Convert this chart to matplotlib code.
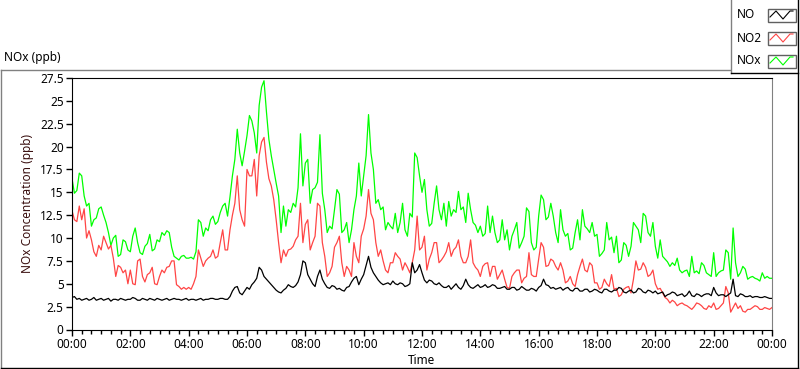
import numpy as np
import matplotlib
matplotlib.use('Agg')
import matplotlib.pyplot as plt
from matplotlib.ticker import MultipleLocator
from matplotlib.patches import Rectangle

plt.rcParams['font.family'] = ['Noto Sans', 'DejaVu Sans']

# readings every 5 minutes, one row per hour, 00:00 .. 24:00 (ppb)
no = [
    3.5, 3.6, 3.3, 3.4, 3.2, 3.3, 3.4, 3.2, 3.3, 3.5, 3.2, 3.3,
    3.4, 3.2, 3.3, 3.4, 3.1, 3.3, 3.3, 3.2, 3.4, 3.3, 3.2, 3.3,
    3.3, 3.5, 3.4, 3.2, 3.2, 3.4, 3.3, 3.2, 3.4, 3.3, 3.2, 3.4,
    3.3, 3.2, 3.3, 3.4, 3.2, 3.3, 3.4, 3.3, 3.3, 3.2, 3.3, 3.4,
    3.2, 3.3, 3.3, 3.2, 3.3, 3.4, 3.2, 3.3, 3.3, 3.4, 3.4, 3.3,
    3.3, 3.4, 3.4, 3.3, 3.3, 3.6, 4.2, 4.6, 4.7, 4.0, 3.8, 4.2,
    4.6, 4.4, 4.9, 5.2, 5.6, 6.8, 6.5, 5.8, 5.5, 5.2, 4.9, 4.6,
    4.3, 4.1, 4.0, 4.3, 4.5, 4.9, 4.7, 4.6, 4.8, 5.2, 6.0, 7.5,
    7.3, 6.0, 5.5, 5.0, 4.7, 5.8, 6.5, 5.5, 5.0, 4.6, 4.5, 4.8,
    4.7, 4.4, 4.5, 4.3, 4.2, 4.6, 4.7, 5.2, 5.6, 5.8, 4.9, 5.5,
    6.0, 7.0, 8.0, 6.8, 6.2, 5.8, 5.4, 5.1, 4.9, 5.0, 5.1, 4.9,
    5.3, 5.0, 4.9, 5.1, 5.0, 4.7, 4.8, 5.0, 7.3, 6.2, 6.5, 7.1,
    6.2, 5.4, 5.1, 5.4, 5.3, 5.0, 4.9, 5.1, 4.8, 4.6, 4.6, 4.8,
    4.4, 4.7, 5.0, 4.6, 4.4, 4.8, 5.5, 4.9, 4.6, 4.5, 4.7, 4.9,
    4.6, 4.7, 4.9, 4.6, 4.7, 4.9, 4.8, 4.5, 4.5, 4.6, 4.7, 4.4,
    4.4, 4.6, 4.6, 4.3, 4.4, 4.7, 4.5, 4.3, 4.3, 4.5, 4.4, 4.2,
    4.6, 4.8, 5.5, 4.9, 4.8, 4.5, 4.6, 4.4, 4.5, 4.6, 4.3, 4.5,
    4.6, 4.3, 4.2, 4.5, 4.5, 4.2, 4.2, 4.4, 4.4, 4.1, 4.2, 4.4,
    4.3, 4.1, 4.0, 4.4, 4.4, 4.2, 4.1, 4.3, 4.3, 4.6, 4.5, 4.1,
    4.0, 4.2, 4.3, 4.0, 4.1, 4.5, 4.4, 4.1, 4.0, 4.3, 4.2, 4.0,
    4.2, 3.9, 4.0, 4.1, 3.6, 3.8, 3.9, 4.1, 4.0, 3.7, 3.8, 3.9,
    3.6, 3.8, 4.2, 3.7, 3.6, 3.9, 3.8, 3.6, 3.8, 3.9, 3.9, 3.7,
    4.6, 4.0, 3.7, 3.8, 3.8, 3.6, 3.8, 4.0, 5.5, 3.7, 3.6, 3.9,
    3.8, 3.6, 3.6, 3.7, 3.5, 3.6, 3.6, 3.5, 3.5, 3.6, 3.5, 3.4,
    3.4,
]
no2 = [
    13.0, 12.0, 11.8, 13.5, 12.0, 13.2, 10.0, 10.8, 9.8, 8.5, 8.0, 9.2,
    8.7, 10.2, 9.5, 8.8, 9.2, 7.8, 5.8, 7.0, 6.8, 6.2, 6.5, 5.0,
    6.5, 5.0, 4.9, 7.5, 7.7, 5.8, 5.2, 6.0, 6.2, 6.8, 5.0, 4.9,
    5.8, 6.5, 6.2, 6.8, 6.9, 7.5, 7.5, 4.9, 4.7, 4.4, 4.6, 4.4,
    4.6, 4.4, 5.0, 5.8, 8.7, 7.8, 6.9, 7.5, 7.8, 8.0, 8.7, 7.8,
    8.0, 9.5, 10.9, 8.7, 8.7, 10.9, 12.5, 13.8, 16.8, 13.1, 12.0, 11.3,
    17.5, 16.8, 16.8, 18.6, 14.6, 19.0, 20.5, 21.0, 18.3, 16.5, 15.7, 14.2,
    12.0, 9.5, 7.3, 8.7, 8.0, 8.7, 8.8, 9.1, 9.8, 10.2, 13.8, 9.5,
    11.5, 12.0, 8.7, 9.5, 10.2, 13.8, 13.5, 9.5, 8.0, 5.8, 6.2, 6.9,
    9.0, 9.5, 10.2, 7.3, 5.8, 6.9, 6.5, 5.8, 9.5, 8.0, 7.3, 10.2,
    11.0, 12.4, 15.3, 12.7, 12.0, 9.5, 8.0, 8.7, 7.5, 6.5, 6.2, 7.3,
    7.3, 8.4, 8.0, 7.7, 6.5, 7.3, 6.8, 6.2, 7.3, 8.7, 12.4, 8.7,
    9.0, 10.2, 6.5, 7.7, 8.4, 9.5, 9.5, 7.3, 7.6, 8.0, 8.5, 9.5,
    8.0, 8.7, 9.0, 9.8, 8.0, 7.3, 7.3, 8.0, 9.8, 7.3, 6.8, 6.5,
    5.8, 6.9, 7.2, 7.3, 5.8, 6.9, 6.9, 5.5, 6.0, 6.5, 5.5, 4.6,
    4.5, 5.8, 6.2, 6.5, 6.5, 5.1, 5.6, 5.8, 8.4, 6.0, 5.8, 5.8,
    7.7, 9.5, 9.0, 6.9, 7.0, 7.7, 7.5, 6.9, 6.5, 7.3, 6.5, 5.1,
    5.3, 5.8, 5.0, 4.7, 6.0, 6.9, 7.7, 6.5, 6.3, 7.3, 7.0, 5.1,
    5.1, 4.4, 4.6, 5.5, 5.0, 4.7, 6.0, 4.4, 4.5, 3.6, 3.8, 4.4,
    4.6, 4.7, 4.0, 5.5, 7.5, 6.5, 6.6, 7.3, 6.8, 5.8, 6.0, 6.5,
    5.0, 4.4, 4.5, 4.0, 3.5, 3.3, 2.9, 3.2, 3.0, 2.6, 2.8, 2.9,
    2.7, 2.6, 2.4, 2.2, 2.5, 2.9, 2.8, 2.6, 2.3, 2.2, 2.6, 2.4,
    2.9, 2.2, 2.3, 2.6, 2.9, 4.7, 4.0, 1.9, 2.4, 2.9, 2.3, 2.6,
    2.0, 1.9, 2.2, 2.2, 2.4, 2.6, 2.5, 2.2, 2.2, 2.4, 2.3, 2.2,
    2.4,
]
nox = [
    16.5, 14.9, 15.2, 17.1, 16.8, 14.6, 13.5, 13.8, 11.3, 12.0, 12.2, 13.2,
    13.4, 12.5, 11.7, 10.6, 9.2, 10.0, 10.3, 8.0, 8.2, 9.8, 9.6, 8.7,
    8.5, 10.2, 11.1, 9.5, 8.4, 8.2, 9.1, 9.4, 10.4, 8.6, 8.8, 9.8,
    9.6, 10.6, 10.3, 10.8, 10.6, 9.0, 8.0, 7.8, 7.6, 8.0, 8.1, 7.8,
    7.8, 7.9, 7.7, 8.5, 12.0, 11.7, 10.2, 11.1, 10.8, 12.0, 12.4, 11.5,
    11.8, 12.8, 13.5, 13.8, 12.4, 14.5, 16.8, 18.6, 21.9, 19.3, 17.9, 19.5,
    21.2, 23.4, 22.8, 21.5, 19.3, 24.5, 26.5, 27.2, 23.8, 20.8, 19.0, 17.5,
    16.0, 14.6, 10.6, 13.5, 11.3, 13.1, 12.8, 13.8, 13.4, 15.5, 21.4, 15.7,
    18.2, 18.6, 13.8, 15.3, 15.5, 16.1, 21.3, 14.9, 13.1, 10.6, 11.3, 11.0,
    13.1, 15.3, 14.8, 10.6, 10.9, 11.7, 9.5, 10.9, 13.1, 14.6, 18.2, 14.6,
    16.8, 19.0, 23.5, 19.3, 17.5, 13.8, 14.2, 13.1, 13.4, 10.9, 11.7, 11.3,
    11.0, 12.7, 10.6, 11.7, 13.8, 10.9, 10.2, 12.7, 12.3, 19.3, 18.8, 16.8,
    15.0, 16.4, 13.1, 11.3, 11.6, 13.8, 15.7, 13.1, 12.0, 13.8, 11.3, 14.0,
    12.4, 13.1, 12.8, 15.1, 13.1, 13.4, 11.7, 14.9, 13.1, 11.7, 11.4, 10.6,
    11.3, 10.2, 10.5, 13.5, 10.6, 12.4, 10.6, 9.5, 9.8, 12.0, 9.8, 10.9,
    8.7, 10.2, 10.9, 11.7, 8.9, 9.5, 10.2, 13.3, 12.9, 9.5, 8.7, 9.0,
    12.4, 14.7, 14.2, 12.0, 12.3, 13.8, 12.4, 10.6, 9.5, 13.1, 10.9, 10.2,
    10.5, 8.7, 8.9, 10.6, 12.0, 9.8, 13.1, 11.3, 11.0, 10.6, 11.7, 10.2,
    10.4, 8.0, 8.3, 8.7, 11.7, 9.8, 10.1, 8.4, 10.2, 7.3, 7.6, 9.5,
    9.2, 8.0, 9.1, 11.7, 11.3, 10.9, 9.5, 12.7, 12.4, 10.6, 10.2, 11.7,
    9.1, 7.8, 9.8, 8.0, 7.7, 7.4, 6.9, 7.3, 7.0, 7.8, 6.5, 6.2,
    6.4, 6.5, 5.8, 8.0, 6.2, 6.4, 6.1, 7.3, 7.0, 6.2, 6.0, 5.8,
    8.4, 5.8, 6.2, 6.4, 6.5, 8.7, 8.4, 5.5, 11.1, 7.3, 5.8, 6.2,
    6.9, 6.6, 5.5, 5.7, 5.8, 5.6, 5.5, 5.3, 6.2, 5.6, 5.8, 5.6,
    5.6,
]
hours = np.arange(len(no)) / 12.0
tick_hours = list(range(0, 25, 2))
tick_labels = ['%02d:00' % (h % 24) for h in tick_hours]
names = ['NO', 'NO2', 'NOx']
colors = ['black', '#ff4545', '#00ff00']

fig = plt.figure(figsize=(8.0, 3.69), dpi=100)

# pixel overlay for the panel frame, title and legend
ov = fig.add_axes([0, 0, 1, 1])
ov.set_xlim(0, 800)
ov.set_ylim(369, 0)
ov.axis('off')
gray = '#808080'
ov.plot([0.5, 730], [69.5, 69.5], color=gray, lw=1)
ov.plot([0.5, 0.5], [69.5, 367.5], color=gray, lw=1)
ov.plot([0.5, 797.5], [367.5, 367.5], color='black', lw=1)
ov.plot([797.5, 797.5], [0, 367.5], color='black', lw=1)
ov.plot([730.5, 730.5], [0, 72.5], color=gray, lw=1)
ov.plot([730.5, 797.5], [72.5, 72.5], color='black', lw=1)
ov.text(4, 58, 'NOx (ppb)', fontsize=8.5, va='center', ha='left')
for i, (name, c) in enumerate(zip(names, colors)):
    yc = 15 + i * 23
    ov.text(737, yc, name, fontsize=8.5, va='center', ha='left')
    ov.add_patch(Rectangle((767.5, yc - 6.5), 28, 13, fill=False,
                           edgecolor='#606060', lw=1))
    ov.plot([770, 776, 783, 790, 793], [yc + 2, yc - 4, yc + 4, yc - 4, yc - 4],
            color=c, lw=0.8)

ax = fig.add_axes([72 / 800, 39.5 / 369, 700 / 800, 251.5 / 369])
ax.plot(hours, nox, color=colors[2], lw=0.9)
ax.plot(hours, no2, color=colors[1], lw=0.9)
ax.plot(hours, no, color=colors[0], lw=0.9)

ax.set_xlim(0, 24)
ax.set_ylim(0, 27.5)
ax.set_yticks(np.arange(0, 27.6, 2.5))
ax.set_yticklabels(['0', '2.5', '5', '7.5', '10', '12.5', '15', '17.5',
                    '20', '22.5', '25', '27.5'])
ax.set_xticks(tick_hours)
ax.set_xticklabels(tick_labels)
ax.xaxis.set_minor_locator(MultipleLocator(1 / 3))
ax.tick_params(axis='both', which='major', labelsize=8.5, direction='out',
               length=4, width=1, pad=2)
ax.tick_params(axis='x', which='minor', direction='out', length=3, width=1)
ax.spines['right'].set_color(gray)
for s in ['left', 'top', 'bottom']:
    ax.spines[s].set_color('black')
ax.set_xlabel('Time', fontsize=8.5, labelpad=2)
ax.set_ylabel('NOx Concentration (ppb)', fontsize=8.5, color='#3a1010', labelpad=4)

fig.savefig('out.png', dpi=100)
